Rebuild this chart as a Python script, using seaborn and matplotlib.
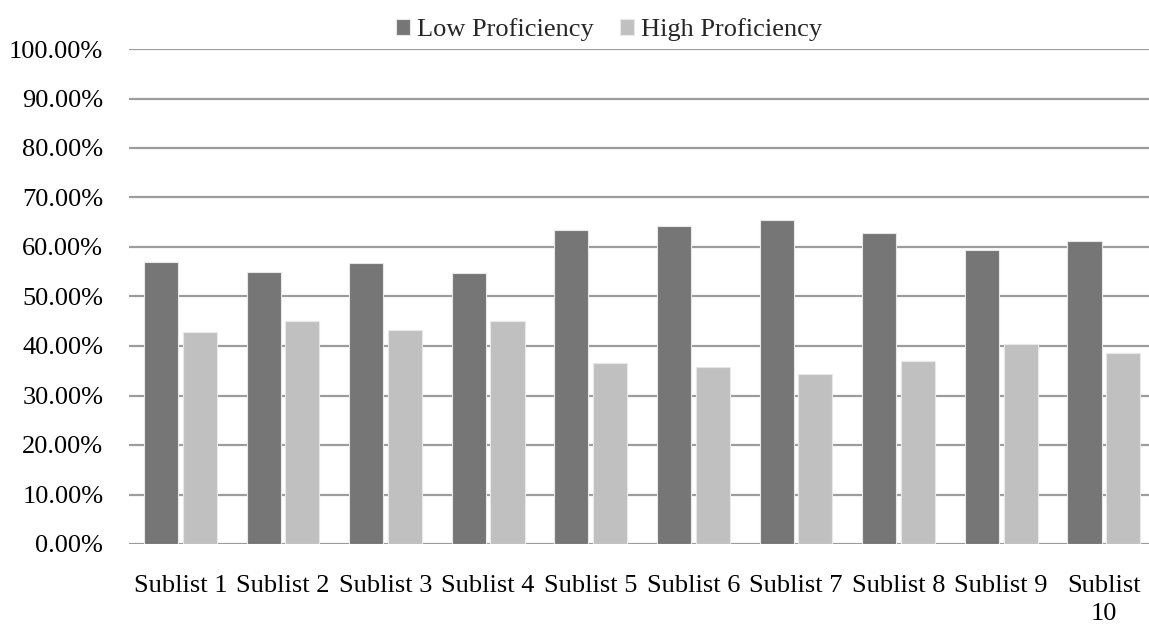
import pandas as pd
import matplotlib
matplotlib.use("Agg")
import matplotlib.pyplot as plt
from matplotlib.ticker import FuncFormatter, MultipleLocator
import seaborn as sns

# values (fractions)
sublists = ["Sublist 1", "Sublist 2", "Sublist 3", "Sublist 4", "Sublist 5",
            "Sublist 6", "Sublist 7", "Sublist 8", "Sublist 9", "Sublist\n10"]
low_prof = [0.570, 0.549, 0.567, 0.548, 0.634, 0.643, 0.655, 0.628, 0.593, 0.613]
high_prof = [0.428, 0.450, 0.432, 0.450, 0.365, 0.358, 0.343, 0.370, 0.405, 0.386]
groups = ["Low Proficiency", "High Proficiency"]
colors = ["#767676", "#c0c0c0"]

df = pd.DataFrame({
    "Sublist": sublists * 2,
    "Share": low_prof + high_prof,
    "Group": [groups[0]] * len(sublists) + [groups[1]] * len(sublists),
})

sns.set_style("white")
plt.rcParams["font.family"] = ["Liberation Serif", "DejaVu Serif"]

fig = plt.figure(figsize=(11.49, 6.26), dpi=100)
ax = fig.add_axes([129 / 1149, 1 - 544 / 626, 1 - 129 / 1149, (544 - 49) / 626])

sns.barplot(data=df, x="Sublist", y="Share", hue="Group", palette=colors,
            width=0.755, gap=0.12, edgecolor="#e8e8e8", linewidth=0.8,
            ax=ax, zorder=3)

ax.set_ylim(0, 1.0)
ax.set_xlim(-0.5, 9.44)
ax.yaxis.set_major_locator(MultipleLocator(0.1))
ax.yaxis.set_major_formatter(FuncFormatter(lambda v, _: f"{v * 100:.2f}%"))
ax.grid(axis="y", color="#9c9c9c", linewidth=1.6, zorder=0)
ax.set_axisbelow(True)
for s in ax.spines.values():
    s.set_visible(False)
ax.tick_params(axis="both", length=0, labelsize=19, colors="black")
ax.tick_params(axis="y", pad=18.5)
ax.tick_params(axis="x", pad=22)
for lbl in ax.get_xticklabels():
    lbl.set_linespacing(1.35)
    lbl.set_verticalalignment("top")
ax.set_xlabel("")
ax.set_ylabel("")

ax.legend(loc="center", bbox_to_anchor=(0.530, 0.953), bbox_transform=fig.transFigure,
          ncol=2, frameon=False, fontsize=19, handlelength=0.55, handleheight=0.55,
          handletextpad=0.25, columnspacing=1.0, borderpad=0)

fig.savefig("out.png", dpi=100)
